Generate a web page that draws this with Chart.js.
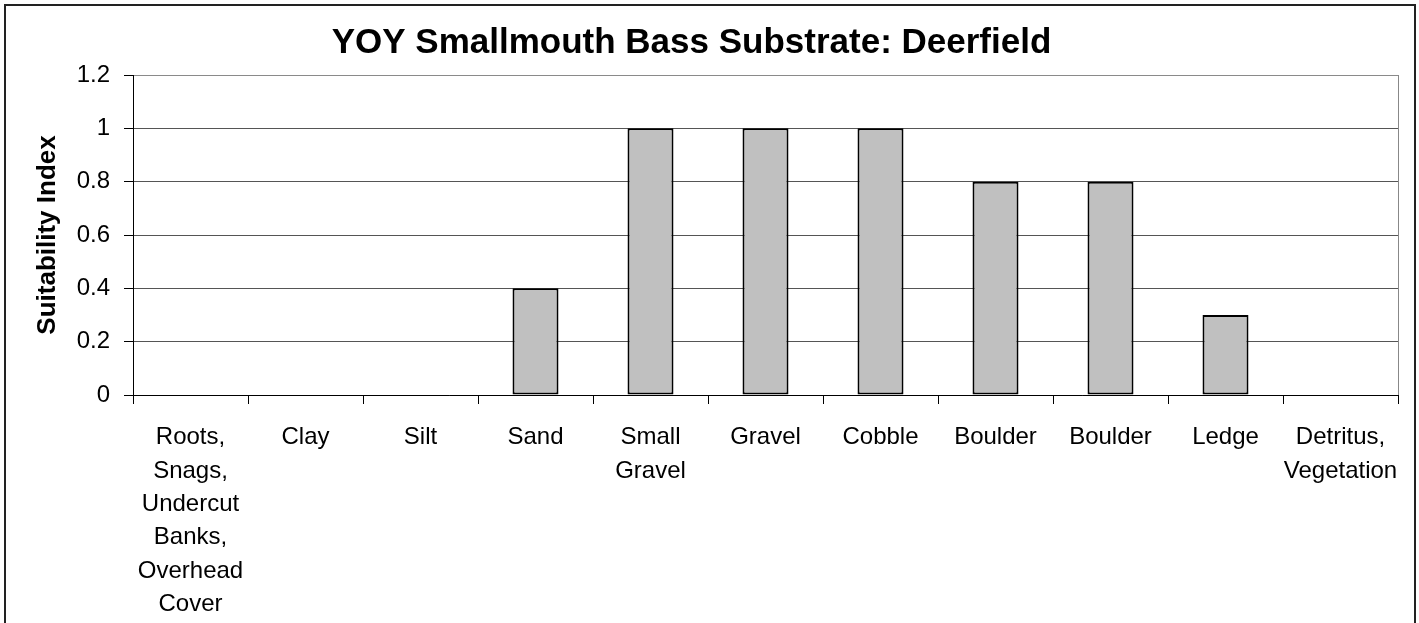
<!DOCTYPE html>
<html>
<head>
<meta charset="utf-8">
<script src="https://cdn.jsdelivr.net/npm/chart.js@4.4.1/dist/chart.umd.min.js"></script>
<style>
  html, body { margin: 0; padding: 0; background: #fff; overflow: hidden; width: 1419px; height: 623px; }
  #wrap { position: absolute; left: -15px; top: 0; width: 1434px; height: 623px; }
  #frame { position: absolute; left: 4px; top: 4px; width: 1412px; height: 700px; box-sizing: border-box; border: 2px solid #222; pointer-events: none; }
</style>
</head>
<body>
<div id="wrap"><canvas id="c" width="1434" height="623"></canvas></div>
<div id="frame"></div>
<script>
const chartTitle = "YOY Smallmouth Bass Substrate: Deerfield";
const yAxisTitle = "Suitability Index";
const categories = [
  ["Roots,", "Snags,", "Undercut", "Banks,", "Overhead", "Cover"],
  ["Clay"],
  ["Silt"],
  ["Sand"],
  ["Small", "Gravel"],
  ["Gravel"],
  ["Cobble"],
  ["Boulder"],
  ["Boulder"],
  ["Ledge"],
  ["Detritus,", "Vegetation"]
];
const suitability = [0, 0, 0, 0.4, 1, 1, 1, 0.8, 0.8, 0.3, 0];
const yMin = 0, yMax = 1.2, yStep = 0.2;

const FONT = "'Liberation Sans', Arial, sans-serif";

const plotBorder = {
  id: 'plotBorder',
  afterDatasetsDraw(chart) {
    const {ctx, chartArea} = chart;
    ctx.save();
    ctx.strokeStyle = '#888';
    ctx.lineWidth = 1;
    const x = Math.round(chartArea.right) + 0.5;
    ctx.beginPath();
    ctx.moveTo(x, chartArea.top);
    ctx.lineTo(x, chartArea.bottom);
    ctx.stroke();
    ctx.restore();
  }
};

new Chart(document.getElementById('c'), {
  type: 'bar',
  data: {
    labels: categories,
    datasets: [{
      data: suitability,
      backgroundColor: '#c0c0c0',
      borderColor: '#000',
      borderWidth: (c) => (c.raw === 0 ? 0 : 2),
      borderSkipped: false,
      categoryPercentage: 1.0,
      barPercentage: 0.4
    }]
  },
  options: {
    responsive: false,
    animation: false,
    devicePixelRatio: 1,
    layout: { padding: { left: 0, right: 21, top: 0, bottom: 0 } },
    plugins: {
      legend: { display: false },
      tooltip: { enabled: false },
      title: {
        display: true,
        text: chartTitle,
        color: '#000',
        font: { family: FONT, size: 35, weight: 'bold', lineHeight: 1.2 },
        padding: { top: 22, bottom: 11 }
      }
    },
    scales: {
      x: {
        offset: true,
        grid: {
          offset: true,
          drawOnChartArea: false,
          drawTicks: true,
          tickLength: 9,
          tickColor: '#000',
          color: '#000'
        },
        border: { display: true, color: '#000', width: 1 },
        ticks: {
          color: '#000',
          autoSkip: false,
          maxRotation: 0,
          minRotation: 0,
          padding: 17,
          font: { family: FONT, size: 24, lineHeight: 1.39 }
        },
        afterFit(scale) { scale.height = 228; }
      },
      y: {
        min: yMin,
        max: yMax,
        ticks: {
          stepSize: yStep,
          color: '#000',
          padding: 14,
          font: { family: FONT, size: 24 },
          callback: (v) => String(Number(Number(v).toFixed(1)))
        },
        grid: {
          color: (c) => (c.index === 6 ? '#8a8a8a' : '#555'),
          lineWidth: 1,
          tickLength: 9,
          tickColor: '#000'
        },
        border: { display: true, color: '#000', width: 1 },
        title: {
          display: true,
          text: yAxisTitle,
          color: '#000',
          font: { family: FONT, size: 26, weight: 'bold', lineHeight: 1.2 },
          padding: { top: 47, bottom: 0 }
        },
        afterFit(scale) { scale.width = 148; }
      }
    }
  },
  plugins: [plotBorder]
});
</script>
</body>
</html>
